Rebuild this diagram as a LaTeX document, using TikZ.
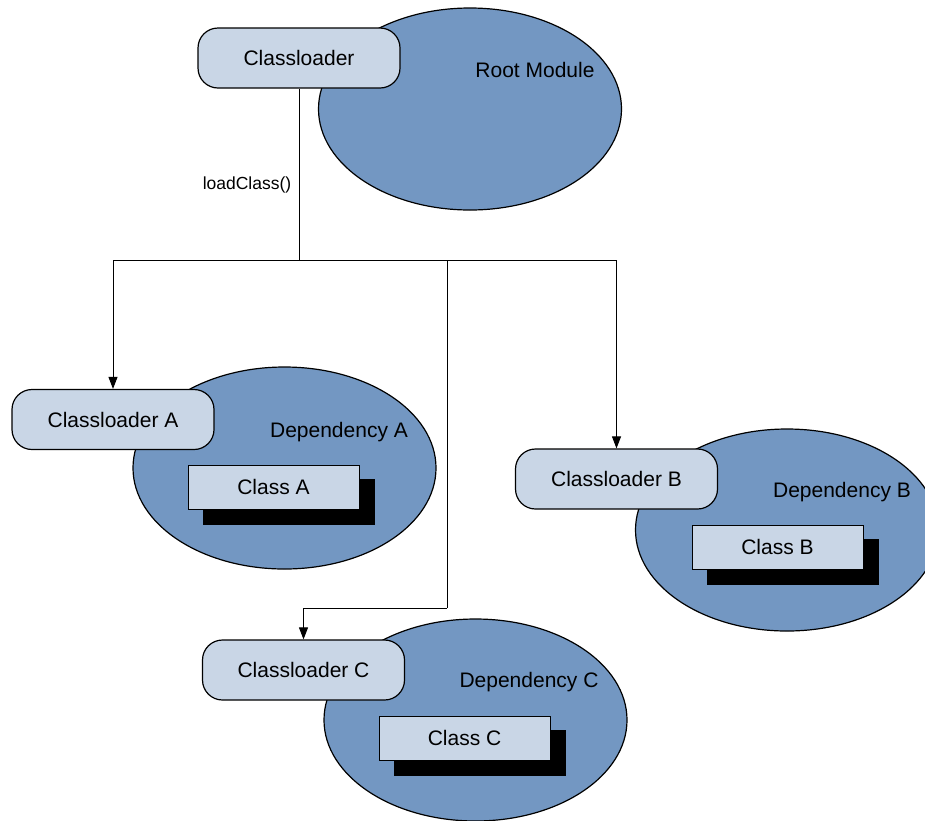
\documentclass[tikz,border=0pt]{standalone}
\usepackage{fontspec}
\setmainfont{Liberation Sans}
\usetikzlibrary{shapes.geometric,arrows.meta}
\definecolor{modfill}{HTML}{7397C2}
\definecolor{boxfill}{HTML}{C9D6E6}
\begin{document}
\begin{tikzpicture}[x=1pt,y=-1pt,
  module/.style={ellipse,draw=black,line width=1.2pt,fill=modfill,minimum width=303pt,minimum height=202pt,inner sep=0pt},
  loader/.style={rectangle,rounded corners=20pt,draw=black,line width=1.2pt,fill=boxfill,minimum width=202pt,minimum height=60pt,inner sep=0pt,font=\fontsize{21}{25}\selectfont},
  classbox/.style={rectangle,draw=black,line width=1pt,fill=boxfill,minimum width=171pt,minimum height=44pt,inner sep=0pt,font=\fontsize{21}{25}\selectfont},
  shadowbox/.style={rectangle,fill=black,minimum width=172pt,minimum height=46pt,inner sep=0pt},
  lbl/.style={inner sep=0pt,font=\fontsize{21}{25}\selectfont},
  smalllbl/.style={inner sep=0pt,font=\fontsize{17.5}{21}\selectfont},
  conn/.style={draw=black,line width=0.9pt},
  arr/.style={conn,-{Triangle[length=12pt,width=9pt]}}]
\useasboundingbox (0,0) rectangle (925,820);
\clip (0,0) rectangle (925,820);
% Root module
\node[module] (root) at (470,109) {};
\node[lbl] (rootlbl) at (535,70) {Root Module};
\node[loader] (cl) at (299,58) {Classloader};
% Dependency A
\node[module] (depA) at (284.5,468) {};
\node[lbl] (depAlbl) at (339,432) {Dependency A};
\node[loader] (clA) at (113,419.5) {Classloader A};
\node[shadowbox] (shA) at (289,502) {};
\node[classbox] (clsA) at (273.5,487) {Class A};
% Dependency B
\node[module] (depB) at (787,530) {};
\node[lbl] (depBlbl) at (842,492) {Dependency B};
\node[loader] (clB) at (616.5,479) {Classloader B};
\node[shadowbox] (shB) at (793,562) {};
\node[classbox] (clsB) at (777.5,547) {Class B};
% Dependency C
\node[module] (depC) at (475.5,720) {};
\node[lbl] (depClbl) at (529,682) {Dependency C};
\node[loader] (clC) at (303.5,670) {Classloader C};
\node[shadowbox] (shC) at (480,753) {};
\node[classbox] (clsC) at (464.5,738) {Class C};
% Connectors
\coordinate (j) at (299,260);
\coordinate (k) at (447,608);
\draw[conn] (cl.south) -- (j);
\node[smalllbl] (load) at (247,185) {loadClass()};
\draw[arr] (j) -| (clA.north);
\draw[arr] (j) -| (clB.north);
\draw[conn] (j) -| (k);
\draw[arr] (k) -| (clC.north);
\end{tikzpicture}
\end{document}
